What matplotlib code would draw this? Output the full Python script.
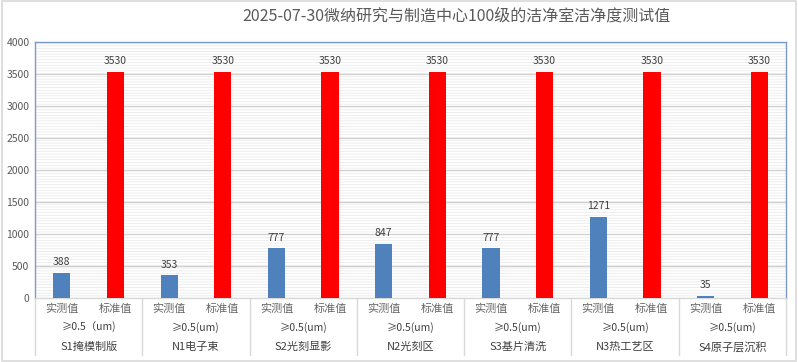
import matplotlib
matplotlib.use("Agg")
import matplotlib.pyplot as plt
from matplotlib.patches import Rectangle
import matplotlib.transforms as mtransforms

plt.rcParams["font.family"] = ["Noto Sans CJK SC", "DejaVu Sans"]
plt.rcParams["hatch.linewidth"] = 0.5

title = "2025-07-30微纳研究与制造中心100级的洁净室洁净度测试值"
areas = ["S1掩模制版", "N1电子束", "S2光刻显影", "N2光刻区",
         "S3基片清洗", "N3热工艺区", "S4原子层沉积"]
sizes = ["≥0.5（um)", "≥0.5(um)", "≥0.5(um)", "≥0.5(um)",
         "≥0.5(um)", "≥0.5(um)", "≥0.5(um)"]
kinds = ["实测值", "标准值"]
measured = [388, 353, 777, 847, 777, 1271, 35]
standard = [3530, 3530, 3530, 3530, 3530, 3530, 3530]

fig = plt.figure(figsize=(7.98, 3.62), dpi=100)
fig.patches.append(Rectangle((0.002, 0.003), 0.996, 0.994, transform=fig.transFigure,
                             fill=False, edgecolor="#d9d9d9", linewidth=1.2))
ax = fig.add_axes([0.0439, 0.1768, 0.9411, 0.7072])

# striped plot background
ax.add_patch(Rectangle((0, 0), 1, 1, transform=ax.transAxes, facecolor="white",
                       edgecolor="#e8e8e8", hatch="------", linewidth=0, zorder=0))

xs_m = [2 * i for i in range(len(areas))]
xs_s = [2 * i + 1 for i in range(len(areas))]
w = 0.32
ax.bar(xs_m, measured, width=w, color="#4f81bd", zorder=3)
ax.bar(xs_s, standard, width=w, color="#ff0000", zorder=3)
for x, v in zip(xs_m + xs_s, measured + standard):
    ax.text(x, v + 90, str(v), ha="center", va="bottom", fontsize=7.5,
            color="#404040", zorder=4)

ax.set_xlim(-0.5, 2 * len(areas) - 0.5)
ax.set_ylim(0, 4000)
ax.set_yticks(range(0, 4001, 500))
ax.yaxis.grid(True, color="#d0d0d0", linewidth=0.9, zorder=1)
ax.set_axisbelow(True)
ax.tick_params(axis="y", length=0, labelsize=7.5, labelcolor="#595959", pad=4)
ax.set_xticks([])
for s in ax.spines.values():
    s.set_color("#7b9bd0")
    s.set_linewidth(1.0)
ax.spines["bottom"].set_color("#d9d9d9")

trans = mtransforms.blended_transform_factory(ax.transData, ax.transAxes)
for i in range(len(areas)):
    for j, k in enumerate(kinds):
        ax.text(2 * i + j, -0.043, k, transform=trans, ha="center", va="center",
                fontsize=8, color="#666666")
    ax.text(2 * i + 0.5, -0.117, sizes[i], transform=trans, ha="center", va="center",
            fontsize=7.5, color="#404040")
    ax.text(2 * i + 0.5, -0.191, areas[i], transform=trans, ha="center", va="center",
            fontsize=8, color="#404040")
for i in range(len(areas) + 1):
    ax.plot([2 * i - 0.5, 2 * i - 0.5], [0, -0.223], transform=trans, color="#d9d9d9",
            linewidth=1.0, clip_on=False, zorder=2)

fig.text(0.572, 0.955, title, ha="center", va="center", fontsize=11.5, color="#595959")

fig.savefig("out.png", dpi=100)
